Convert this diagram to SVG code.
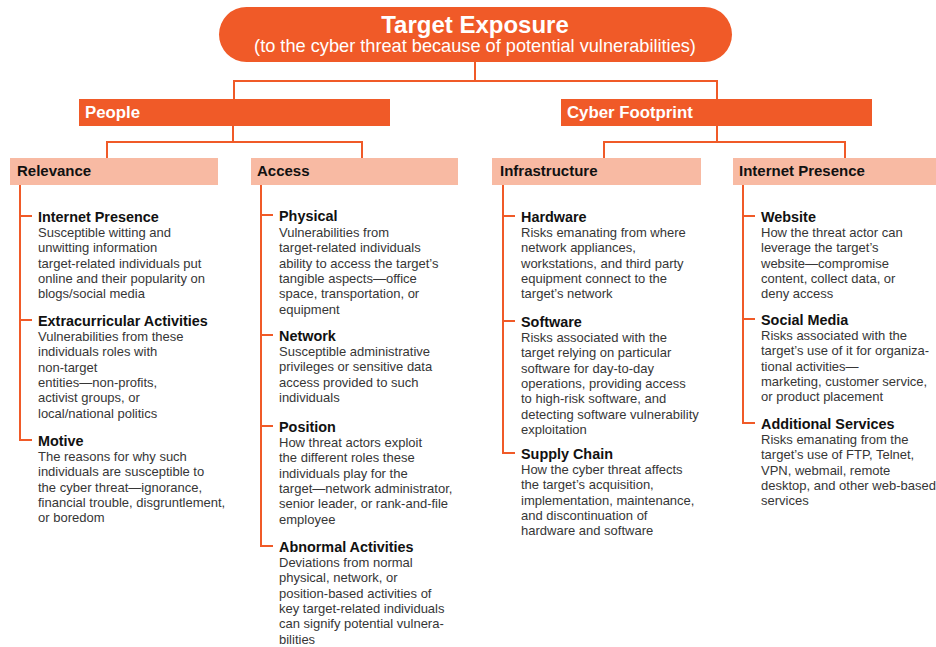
<svg xmlns="http://www.w3.org/2000/svg" width="936" height="647" viewBox="0 0 936 647">
  <style>
    .conn { fill: none; stroke: #F05A28; stroke-width: 2; stroke-linejoin: miter; }
    .dark { fill: #F05A28; }
    .light { fill: #F8BAA3; }
    .t1 { font-family: "Liberation Sans", Arial, sans-serif; font-weight: bold; font-size: 24px; fill: #ffffff; }
    .t2 { font-family: "Liberation Sans", Arial, sans-serif; font-size: 18.2px; fill: #ffffff; }
    .l1 { font-family: "Liberation Sans", Arial, sans-serif; font-weight: bold; font-size: 16.8px; fill: #ffffff; }
    .l2 { font-family: "Liberation Sans", Arial, sans-serif; font-weight: bold; font-size: 15px; fill: #111111; }
    .hd { font-family: "Liberation Sans", Arial, sans-serif; font-weight: bold; font-size: 14.4px; fill: #111111; }
    .bd { font-family: "Liberation Sans", Arial, sans-serif; font-size: 13px; fill: #363636; }
  </style>

  <!-- connectors -->
  <g id="connectors">
    <path class="conn" d="M475 61 V81 M234 99 V81 H717 V99"/>
    <path class="conn" d="M233 126 V142 M107 158 V142 H362 V158"/>
    <path class="conn" d="M717 126 V142 M604 158 V142 H845 V158"/>
    <!-- Relevance branch -->
    <path class="conn" d="M20 185 V440 H32 M20 216 H32 M20 320 H32"/>
    <!-- Access branch -->
    <path class="conn" d="M261 185 V546 H273 M261 215 H273 M261 335 H273 M261 426 H273"/>
    <!-- Infrastructure branch -->
    <path class="conn" d="M503 185 V453 H515 M503 216 H515 M503 321 H515"/>
    <!-- Internet Presence branch -->
    <path class="conn" d="M743 185 V423 H755 M743 216 H755 M743 319 H755"/>
  </g>

  <!-- root -->
  <g id="target-exposure">
    <rect class="dark" x="219" y="7" width="513" height="55" rx="27.5" ry="27.5"/>
    <text class="t1" x="475" y="33" text-anchor="middle">Target Exposure</text>
    <text class="t2" x="475" y="52" text-anchor="middle">(to the cyber threat because of potential vulnerabilities)</text>
  </g>

  <!-- level 1 -->
  <g id="people">
    <rect class="dark" x="79" y="99" width="311" height="27"/>
    <text class="l1" x="85" y="118">People</text>
  </g>
  <g id="cyber-footprint">
    <rect class="dark" x="561" y="99" width="311" height="27"/>
    <text class="l1" x="567" y="118">Cyber Footprint</text>
  </g>

  <!-- level 2 -->
  <g id="relevance">
    <rect class="light" x="10" y="158" width="208" height="27"/>
    <text class="l2" x="17" y="176">Relevance</text>
  </g>
  <g id="access">
    <rect class="light" x="251" y="158" width="207" height="27"/>
    <text class="l2" x="257" y="176">Access</text>
  </g>
  <g id="infrastructure">
    <rect class="light" x="492" y="158" width="209" height="27"/>
    <text class="l2" x="500" y="176">Infrastructure</text>
  </g>
  <g id="internet-presence">
    <rect class="light" x="733" y="158" width="203" height="27"/>
    <text class="l2" x="739" y="176">Internet Presence</text>
  </g>

  <!-- Relevance items -->
  <g id="rel-internet-presence">
    <text class="hd" x="38" y="222">Internet Presence</text>
    <text class="bd" x="38" y="237"><tspan x="38">Susceptible witting and</tspan><tspan x="38" dy="15.3">unwitting information</tspan><tspan x="38" dy="15.3">target-related individuals put</tspan><tspan x="38" dy="15.3">online and their popularity on</tspan><tspan x="38" dy="15.3">blogs/social media</tspan></text>
  </g>
  <g id="rel-extracurricular">
    <text class="hd" x="38" y="326">Extracurricular Activities</text>
    <text class="bd" x="38" y="341"><tspan x="38">Vulnerabilities from these</tspan><tspan x="38" dy="15.3">individuals roles with</tspan><tspan x="38" dy="15.3">non-target</tspan><tspan x="38" dy="15.3">entities—non-profits,</tspan><tspan x="38" dy="15.3">activist groups, or</tspan><tspan x="38" dy="15.3">local/national politics</tspan></text>
  </g>
  <g id="rel-motive">
    <text class="hd" x="38" y="446">Motive</text>
    <text class="bd" x="38" y="461"><tspan x="38">The reasons for why such</tspan><tspan x="38" dy="15.3">individuals are susceptible to</tspan><tspan x="38" dy="15.3">the cyber threat—ignorance,</tspan><tspan x="38" dy="15.3">financial trouble, disgruntlement,</tspan><tspan x="38" dy="15.3">or boredom</tspan></text>
  </g>

  <!-- Access items -->
  <g id="acc-physical">
    <text class="hd" x="279" y="221">Physical</text>
    <text class="bd" x="279" y="237"><tspan x="279">Vulnerabilities from</tspan><tspan x="279" dy="15.3">target-related individuals</tspan><tspan x="279" dy="15.3">ability to access the target’s</tspan><tspan x="279" dy="15.3">tangible aspects—office</tspan><tspan x="279" dy="15.3">space, transportation, or</tspan><tspan x="279" dy="15.3">equipment</tspan></text>
  </g>
  <g id="acc-network">
    <text class="hd" x="279" y="341">Network</text>
    <text class="bd" x="279" y="356"><tspan x="279">Susceptible administrative</tspan><tspan x="279" dy="15.3">privileges or sensitive data</tspan><tspan x="279" dy="15.3">access provided to such</tspan><tspan x="279" dy="15.3">individuals</tspan></text>
  </g>
  <g id="acc-position">
    <text class="hd" x="279" y="432">Position</text>
    <text class="bd" x="279" y="447"><tspan x="279">How threat actors exploit</tspan><tspan x="279" dy="15.3">the different roles these</tspan><tspan x="279" dy="15.3">individuals play for the</tspan><tspan x="279" dy="15.3">target—network administrator,</tspan><tspan x="279" dy="15.3">senior leader, or rank-and-file</tspan><tspan x="279" dy="15.3">employee</tspan></text>
  </g>
  <g id="acc-abnormal">
    <text class="hd" x="279" y="552">Abnormal Activities</text>
    <text class="bd" x="279" y="567"><tspan x="279">Deviations from normal</tspan><tspan x="279" dy="15.3">physical, network, or</tspan><tspan x="279" dy="15.3">position-based activities of</tspan><tspan x="279" dy="15.3">key target-related individuals</tspan><tspan x="279" dy="15.3">can signify potential vulnera-</tspan><tspan x="279" dy="15.3">bilities</tspan></text>
  </g>

  <!-- Infrastructure items -->
  <g id="inf-hardware">
    <text class="hd" x="521" y="222">Hardware</text>
    <text class="bd" x="521" y="237"><tspan x="521">Risks emanating from where</tspan><tspan x="521" dy="15.3">network appliances,</tspan><tspan x="521" dy="15.3">workstations, and third party</tspan><tspan x="521" dy="15.3">equipment connect to the</tspan><tspan x="521" dy="15.3">target’s network</tspan></text>
  </g>
  <g id="inf-software">
    <text class="hd" x="521" y="327">Software</text>
    <text class="bd" x="521" y="342"><tspan x="521">Risks associated with the</tspan><tspan x="521" dy="15.3">target relying on particular</tspan><tspan x="521" dy="15.3">software for day-to-day</tspan><tspan x="521" dy="15.3">operations, providing access</tspan><tspan x="521" dy="15.3">to high-risk software, and</tspan><tspan x="521" dy="15.3">detecting software vulnerability</tspan><tspan x="521" dy="15.3">exploitation</tspan></text>
  </g>
  <g id="inf-supply-chain">
    <text class="hd" x="521" y="459">Supply Chain</text>
    <text class="bd" x="521" y="474"><tspan x="521">How the cyber threat affects</tspan><tspan x="521" dy="15.3">the target’s acquisition,</tspan><tspan x="521" dy="15.3">implementation, maintenance,</tspan><tspan x="521" dy="15.3">and discontinuation of</tspan><tspan x="521" dy="15.3">hardware and software</tspan></text>
  </g>

  <!-- Internet Presence items -->
  <g id="ip-website">
    <text class="hd" x="761" y="222">Website</text>
    <text class="bd" x="761" y="237"><tspan x="761">How the threat actor can</tspan><tspan x="761" dy="15.3">leverage the target’s</tspan><tspan x="761" dy="15.3">website—compromise</tspan><tspan x="761" dy="15.3">content, collect data, or</tspan><tspan x="761" dy="15.3">deny access</tspan></text>
  </g>
  <g id="ip-social-media">
    <text class="hd" x="761" y="325">Social Media</text>
    <text class="bd" x="761" y="340"><tspan x="761">Risks associated with the</tspan><tspan x="761" dy="15.3">target’s use of it for organiza-</tspan><tspan x="761" dy="15.3">tional activities—</tspan><tspan x="761" dy="15.3">marketing, customer service,</tspan><tspan x="761" dy="15.3">or product placement</tspan></text>
  </g>
  <g id="ip-additional">
    <text class="hd" x="761" y="429">Additional Services</text>
    <text class="bd" x="761" y="444"><tspan x="761">Risks emanating from the</tspan><tspan x="761" dy="15.3">target’s use of FTP, Telnet,</tspan><tspan x="761" dy="15.3">VPN, webmail, remote</tspan><tspan x="761" dy="15.3">desktop, and other web-based</tspan><tspan x="761" dy="15.3">services</tspan></text>
  </g>
</svg>
